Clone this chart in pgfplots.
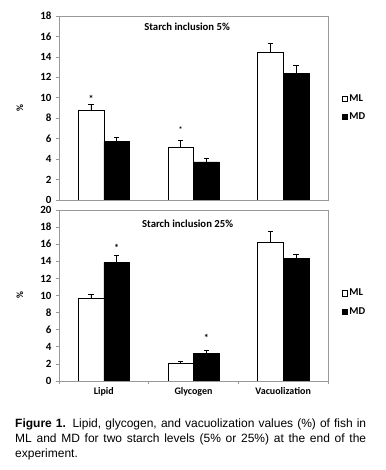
\documentclass[border=0pt]{standalone}
\usepackage{pgfplots}
\pgfplotsset{compat=1.18}
\usepackage{fontspec}
\setmainfont{Liberation Sans}
\newfontfamily\calfont{Carlito}

\pgfplotstableread{
x  y     e
0  8.78  0.56
1  5.16  0.63
2  14.47 0.89
}\topML
\pgfplotstableread{
x  y     e
0  5.72  0.36
1  3.72  0.36
2  12.40 0.76
}\topMD
\pgfplotstableread{
x  y     e
0  9.67  0.51
1  2.04  0.23
2  16.24 1.29
}\botML
\pgfplotstableread{
x  y     e
0  13.86 0.82
1  3.25  0.31
2  14.32 0.55
}\botMD

\pgfplotsset{
  myaxis/.style={
    scale only axis,
    width=269pt,
    xmin=-0.5, xmax=2.5,
    ymin=0,
    ybar=0pt,
    bar width=25.7pt,
    axis line style={draw=black!40, line width=0.6pt},
    tick style={draw=black!40, line width=0.6pt},
    tick align=outside,
    major tick length=3pt,
    ytick pos=left,
    xtick pos=bottom,
    /pgf/number format/assume math mode=true,
    tick label style={font=\calfont\bfseries\fontsize{11}{12}\selectfont},
    yticklabel style={xshift=-1pt},
    ylabel={\%},
    ylabel style={at={(axis description cs:-0.145,0.5)}, anchor=center, font=\calfont\bfseries\fontsize{9.5}{10}\selectfont},
    legend style={draw=none, fill=none, font=\calfont\bfseries\fontsize{10.5}{11}\selectfont, row sep=6pt, inner sep=0pt},
    legend cell align=left,
    legend image code/.code={\draw[##1, draw=black, line width=0.5pt] (0pt,-2.6pt) rectangle (5.2pt,2.6pt);},
  },
  myerr/.style={error bars/.cd, y dir=plus, y explicit,
      error bar style={black, line width=0.7pt},
      error mark options={rotate=90, mark size=2.6pt, black, line width=0.7pt}},
}

\begin{document}
\begin{tikzpicture}
\path[use as bounding box] (0pt,0pt) rectangle (385pt,470pt);

% top axis
\begin{axis}[myaxis,
  at={(59pt,270pt)}, anchor=south west,
  height=184pt, ymax=18, ytick={0,2,...,18},
  xtick=\empty,
  legend style={at={(1.05,0.5)}, anchor=west},
]
\addplot[draw=black, line width=0.6pt, fill=white, myerr] table[x=x, y=y, y error=e] {\topML};
\addplot[draw=black, line width=0.6pt, fill=black, myerr] table[x=x, y=y, y error=e] {\topMD};
\legend{ML, MD}
\node[font=\calfont\bfseries\fontsize{10.7}{12}\selectfont] at (axis description cs:0.476,0.94) {Starch inclusion 5\%};
\node[font=\calfont\bfseries\fontsize{10}{10}\selectfont] at (axis cs:-0.143,9.9) {*};
\node[font=\calfont\bfseries\fontsize{8}{8}\selectfont] at (axis cs:0.857,6.85) {*};
\end{axis}

% bottom axis
\begin{axis}[myaxis,
  at={(59pt,89pt)}, anchor=south west,
  height=171pt, ymax=20, ytick={0,2,...,20},
  xtick={-0.5,0.5,1.5,2.5}, xticklabels={},
  extra x ticks={0,1,2},
  extra x tick labels={Lipid,Glycogen,Vacuolization},
  extra x tick style={major tick length=0pt, tick label style={yshift=-3pt, font=\calfont\bfseries\fontsize{10}{11}\selectfont}},
  legend style={at={(1.05,0.46)}, anchor=west},
]
\addplot[draw=black, line width=0.6pt, fill=white, myerr] table[x=x, y=y, y error=e] {\botML};
\addplot[draw=black, line width=0.6pt, fill=black, myerr] table[x=x, y=y, y error=e] {\botMD};
\legend{ML, MD}
\node[font=\calfont\bfseries\fontsize{10.7}{12}\selectfont] at (axis description cs:0.478,0.918) {Starch inclusion 25\%};
\node[font=\calfont\bfseries\fontsize{10}{10}\selectfont] at (axis cs:0.143,15.6) {*};
\node[font=\calfont\bfseries\fontsize{10}{10}\selectfont] at (axis cs:1.143,5.0) {*};
\end{axis}

\node[anchor=north west, inner sep=0pt, text width=351pt, align=justify,
      font=\fontsize{12}{14.7}\selectfont] at (15pt,51pt)
  {\textbf{Figure 1.} Lipid, glycogen, and vacuolization values (\%) of fish in ML and MD for two starch levels (5\% or 25\%) at the end of the experiment.};
\end{tikzpicture}
\end{document}
